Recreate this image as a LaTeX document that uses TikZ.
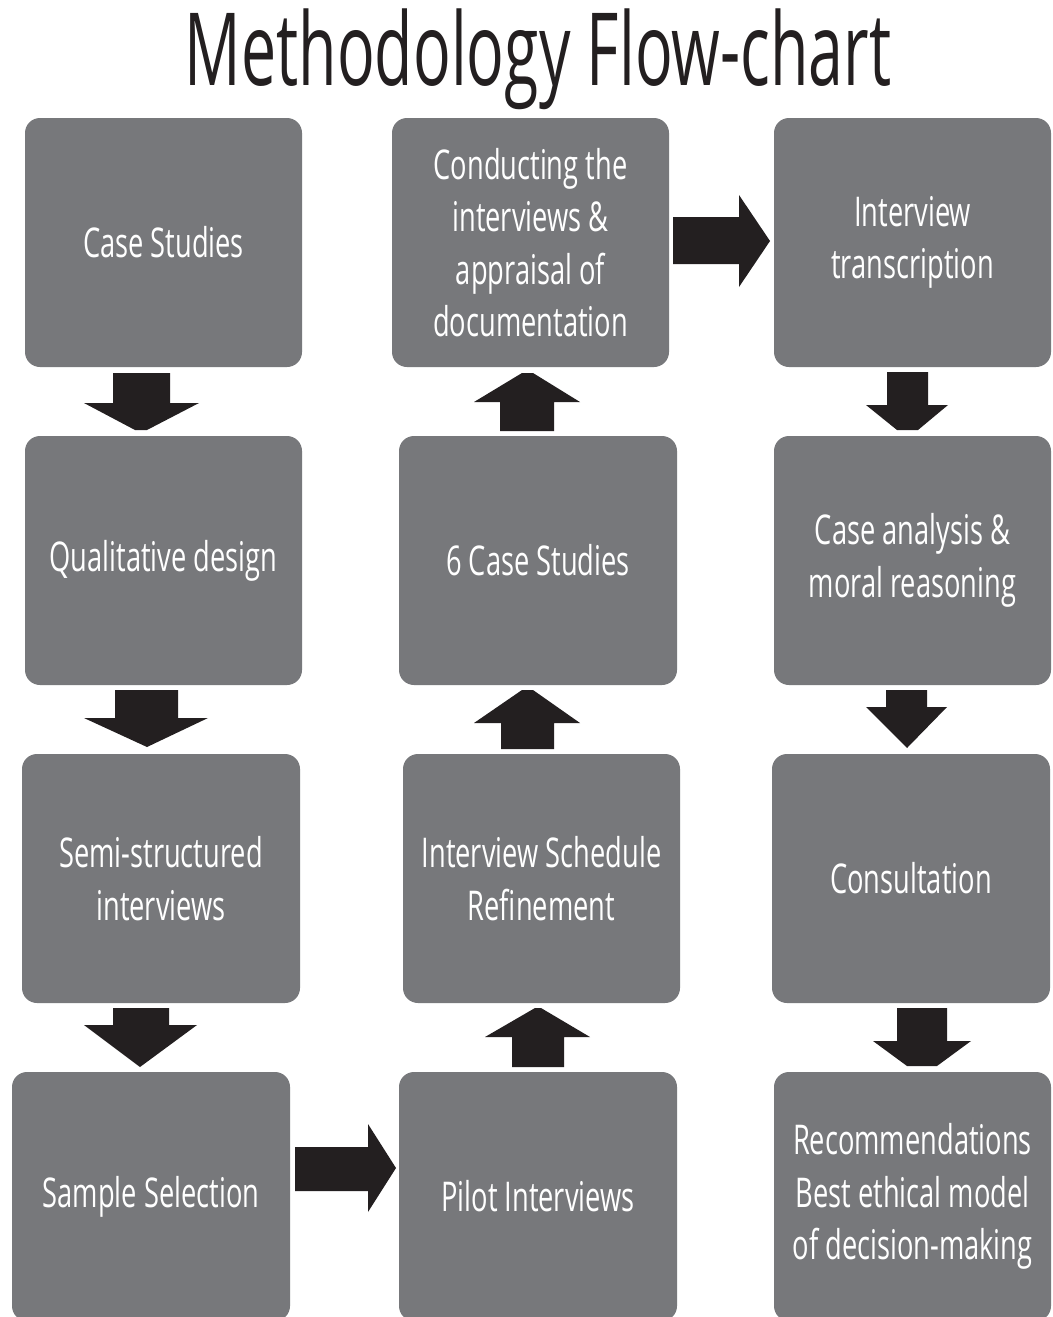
\documentclass[tikz,border=0pt]{standalone}
\usepackage{fontspec}
\setmainfont{Open Sans}[FakeStretch=0.665]
\newfontfamily\titlefont{Open Sans}[FakeStretch=0.62]
\definecolor{boxgray}{HTML}{77787B}
\definecolor{arrowblack}{HTML}{231F20}
\tikzset{
  box/.style={fill=boxgray, rounded corners=15pt, inner sep=0pt,
    minimum width=277pt, minimum height=249pt, align=center,
    text=white, font=\fontsize{41}{52.5}\selectfont},
  blk/.style={fill=arrowblack}
}
\begin{document}
\begin{tikzpicture}[x=1pt,y=-1pt]
\useasboundingbox (0,0) rectangle (1052,1317);
\clip (0,0) rectangle (1052,1317);
\fill[white] (0,0) rectangle (1052,1317);

% title
\node[anchor=base, inner sep=0pt, text=arrowblack, font=\titlefont\fontsize{101}{110}\selectfont] (title) at (538,85) {Methodology Flow-chart};

% column 1
\node[box] (cs) at (163.5,242.5) {Case Studies};
\node[box] (qd) at (163.5,560.5) {Qualitative design};
\node[box, minimum width=278pt] (ssi) at (161,878.5) {Semi-structured\\interviews};
\node[box, minimum width=278pt] (samp) at (151,1196.5) {Sample Selection};
% column 2
\node[box] (cond) at (530.5,242.5) {Conducting the\\interviews \&\\appraisal of\\documentation};
\node[box, minimum width=278pt] (six) at (538,560.5) {6 Case Studies};
\node[box] (isr) at (541.5,878.5) {Interview Schedule\\Refinement};
\node[box, minimum width=278pt] (pilot) at (538,1196.5) {Pilot Interviews};
% column 3
\node[box] (it) at (912.5,242.5) {Interview\\transcription};
\node[box] (ca) at (912.5,560.5) {Case analysis \&\\moral reasoning};
\node[box, minimum width=278pt] (cons) at (911,878.5) {Consultation};
\node[box] (rec) at (912.5,1196.5) {Recommendations\\Best ethical model\\of decision-making};

% block arrows, column 1 (down)
\fill[blk] (113,373) -- (170,373) -- (170,403) -- (199,403) -- (147,430) -- (135,430) -- (84,403) -- (113,403) -- cycle; % cs -> qd
\fill[blk] (115,690) -- (178,690) -- (178,718) -- (208,718) -- (147,747) -- (84,718) -- (115,718) -- cycle; % qd -> ssi
\fill[blk] (113,1008) -- (169,1008) -- (169,1025) -- (197,1025) -- (140,1067) -- (84,1025) -- (113,1025) -- cycle; % ssi -> samp

% right arrow samp -> pilot
\fill[blk] (295,1147) -- (368,1147) -- (368,1124) -- (396,1168) -- (368,1212) -- (368,1191) -- (295,1191) -- cycle;

% column 2 (up)
\fill[blk] (512,1067) -- (512,1037) -- (485,1037) -- (535,1008) -- (541,1008) -- (590,1037) -- (564,1037) -- (564,1067) -- cycle; % pilot -> isr
\fill[blk] (501,749) -- (501,723) -- (474,723) -- (522,690) -- (533,690) -- (580,723) -- (554,723) -- (554,749) -- cycle; % isr -> six
\fill[blk] (500,431) -- (500,402) -- (474,402) -- (522,373) -- (533,373) -- (580,402) -- (554,402) -- (554,431) -- cycle; % six -> cond

% right arrow cond -> it
\fill[blk] (673,217) -- (739,217) -- (739,195) -- (770,241) -- (739,287) -- (739,264) -- (673,264) -- cycle;

% column 3 (down)
\fill[blk] (887,372) -- (928,372) -- (928,405) -- (948,405) -- (918,430) -- (897,430) -- (866,405) -- (887,405) -- cycle; % it -> ca
\fill[blk] (886,690) -- (927,690) -- (927,707) -- (947,707) -- (907,748) -- (866,707) -- (886,707) -- cycle; % ca -> cons
\fill[blk] (897,1008) -- (947,1008) -- (947,1041) -- (971,1041) -- (937,1066) -- (907,1066) -- (873,1041) -- (897,1041) -- cycle; % cons -> rec
\end{tikzpicture}
\end{document}
